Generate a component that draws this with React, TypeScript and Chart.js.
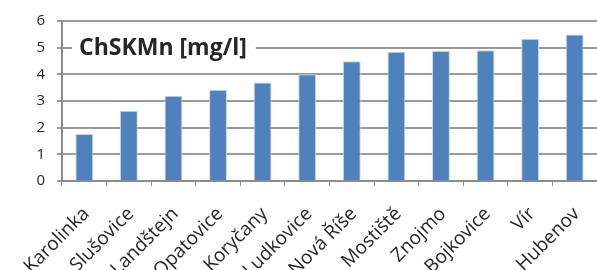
import React, { useEffect, useRef } from "react";
import { Chart, registerables } from "chart.js";

Chart.register(...registerables);

const categories = ["Karolinka", "Slušovice", "Landštejn", "Opatovice", "Koryčany", "Ludkovice", "Nová Říše", "Mostiště", "Znojmo", "Bojkovice", "Vír", "Hubenov"];
const values = [1.76, 2.63, 3.2, 3.42, 3.69, 4.0, 4.49, 4.85, 4.88, 4.9, 5.33, 5.49];
const yTicks = [0, 1, 2, 3, 4, 5, 6];
const titleText = "ChSKMn [mg/l]";

const FONT = "'Open Sans', sans-serif";

const titlePlugin = {
  id: "boxTitle",
  afterDraw(chart: any) {
    const ctx = chart.ctx;
    const y = chart.scales.y;
    const x = chart.scales.x;
    const x0 = chart.chartArea.left;
    const cy = y.getPixelForValue(5);
    ctx.save();
    ctx.font = "bold 23px " + FONT;
    const w = ctx.measureText(titleText).width;
    ctx.fillStyle = "#ffffff";
    ctx.fillRect(x0 + 10, cy - 17, w + 16, 34);
    ctx.fillStyle = "#262626";
    ctx.textBaseline = "middle";
    ctx.textAlign = "left";
    ctx.fillText(titleText, x0 + 17, cy + 1);
    ctx.restore();

    // rotated category labels, anchored at each category centre
    const axisY = chart.chartArea.bottom;
    ctx.save();
    ctx.font = "19px " + FONT;
    ctx.fillStyle = "#262626";
    ctx.textAlign = "right";
    ctx.textBaseline = "middle";
    chart.data.labels.forEach((lab: string, i: number) => {
      const px = x.getPixelForValue(i);
      ctx.save();
      ctx.translate(px + 2, axisY + 30);
      ctx.rotate(-Math.PI / 4);
      ctx.fillText(lab, 0, 0);
      ctx.restore();
    });
    ctx.restore();
  },
};

export default function App() {
  const ref = useRef<HTMLCanvasElement>(null);
  useEffect(() => {
    document.body.style.margin = "0";
    const chart = new Chart(ref.current!, {
      type: "bar",
      data: {
        labels: categories,
        datasets: [
          {
            data: values,
            backgroundColor: "#4f81bd",
            borderColor: "#c5d6ea",
            borderWidth: 1,
            barPercentage: 0.4,
            categoryPercentage: 1,
          },
        ],
      },
      options: {
        animation: false,
        responsive: false,
        maintainAspectRatio: false,
        layout: { padding: { top: 20, right: 0, left: 0, bottom: 0 } },
        plugins: { legend: { display: false }, tooltip: { enabled: false } },
        scales: {
          x: {
            offset: true,
            grid: {
              offset: true,
              drawOnChartArea: false,
              drawTicks: true,
              tickLength: 5,
              color: "#8c8c8c",
            },
            border: { color: "#8c8c8c", width: 2 },
            ticks: { display: false },
            afterFit(scale: any) {
              scale.height = 89;
            },
          },
          y: {
            min: 0,
            max: 6,
            afterBuildTicks(scale: any) {
              scale.ticks = yTicks.map((v) => ({ value: v }));
            },
            grid: { color: "#9a9a9a", lineWidth: 2, tickLength: 5 },
            border: { color: "#8c8c8c", width: 2 },
            ticks: {
              color: "#262626",
              font: { family: FONT, size: 15 },
              padding: 12,
            },
            afterFit(scale: any) {
              scale.width = 62;
            },
          },
        },
      },
      plugins: [titlePlugin],
    });
    return () => chart.destroy();
  }, []);
  return <canvas ref={ref} width={597} height={270} style={{ display: "block" }} />;
}
